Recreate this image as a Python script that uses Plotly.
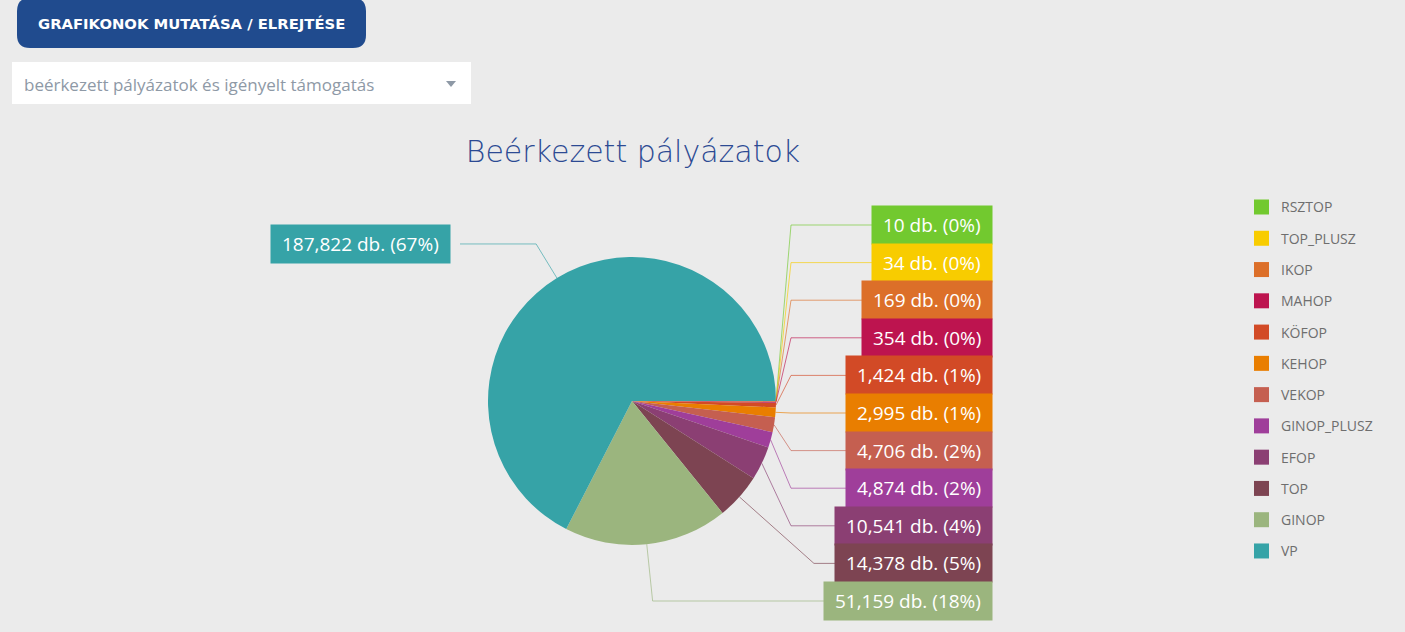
import math
import plotly.graph_objects as go

# ---------------- data ----------------
labels = ["RSZTOP", "TOP_PLUSZ", "IKOP", "MAHOP", "KÖFOP", "KEHOP", "VEKOP",
          "GINOP_PLUSZ", "EFOP", "TOP", "GINOP", "VP"]
values = [10, 34, 169, 354, 1424, 2995, 4706, 4874, 10541, 14378, 51159, 187822]
colors = ["#72c92f", "#f8cc00", "#dc6f29", "#bd144f", "#d24a26", "#e97e00",
          "#c55f50", "#9f3e9a", "#8b3f73", "#7d4452", "#9bb57e", "#36a3a7"]
title_text = "Beérkezett pályázatok"
button_text = "GRAFIKONOK MUTATÁSA / ELREJTÉSE"
dropdown_text = "beérkezett pályázatok és igényelt támogatás"

# ---------------- layout geometry (pixels) ----------------
W, H = 1405, 632
CX, CY, R = 632, 401, 144
BG = "#ebebeb"


def px(x):
    return x / W


def py(y):
    return 1 - y / H


def rgba(hex_color, a):
    h = hex_color.lstrip("#")
    r, g, b = int(h[0:2], 16), int(h[2:4], 16), int(h[4:6], 16)
    return f"rgba({r},{g},{b},{a})"


total = sum(values)
fig = go.Figure()

fig.add_trace(go.Pie(
    labels=labels, values=values,
    marker=dict(colors=colors, line=dict(width=0)),
    sort=False, direction="clockwise", rotation=90,
    textinfo="none", hoverinfo="label+value+percent",
    showlegend=False,
    domain=dict(x=[px(CX - R), px(CX + R)], y=[py(CY + R), py(CY - R)]),
))

shapes = []
annotations = []

# ---------------- outside labels with leader lines ----------------
n_right = len(values) - 1
step = 37.6
bottom_y = 601
cum = 0
for i, (lab, v, col) in enumerate(zip(labels, values, colors)):
    theta = (cum + v / 2) / total * 2 * math.pi
    cum += v
    c, s = math.cos(theta), math.sin(theta)
    ex, ey = CX + R * c, CY + R * s
    text = f"\u00a0{v:,} db. ({round(100 * v / total)}%)\u00a0"
    if c >= 0 and i < n_right:
        ly = bottom_y - (n_right - 1 - i) * step
        if math.degrees(theta) > 35:
            bx = ex + (ly - ey) * c / s
        else:
            bx = CX + R + 15
        lx_end, box_x, anchor = 960, 993, "right"
    else:
        ly = CY + (R + 40) * s
        bx = ex + (ly - ey) * c / s
        lx_end, box_x, anchor = 460, 451, "right"
    shapes.append(dict(
        type="path", xref="paper", yref="paper",
        path=f"M {px(ex)},{py(ey)} L {px(bx)},{py(ly)} L {px(lx_end)},{py(ly)}",
        line=dict(color=rgba(col, 0.65), width=1), layer="above",
    ))
    annotations.append(dict(
        xref="paper", yref="paper", x=px(box_x), y=py(ly),
        xanchor=anchor, yanchor="middle", showarrow=False,
        text=text, bgcolor=col, borderpad=6,
        font=dict(family="Open Sans", size=19, color="white"),
    ))

# ---------------- legend (manual, fixed spacing) ----------------
leg_y0, leg_step = 207, 31.27
for i, (lab, col) in enumerate(zip(labels, colors)):
    yc = leg_y0 + i * leg_step
    shapes.append(dict(
        type="rect", xref="paper", yref="paper",
        x0=px(1254), x1=px(1269), y0=py(yc - 7.5), y1=py(yc + 7.5),
        fillcolor=col, line=dict(width=0),
    ))
    annotations.append(dict(
        xref="paper", yref="paper", x=px(1279), y=py(yc),
        xanchor="left", yanchor="middle", showarrow=False, text=lab,
        font=dict(family="Open Sans", size=14, color="#6e6e6e"),
    ))

# ---------------- button ----------------
bx0, bx1, by0, by1, rr = 17, 366, -2, 48, 13
btn_path = (
    f"M {px(bx0 + rr)},{py(by0)} L {px(bx1 - rr)},{py(by0)} "
    f"Q {px(bx1)},{py(by0)} {px(bx1)},{py(by0 + rr)} "
    f"L {px(bx1)},{py(by1 - rr)} Q {px(bx1)},{py(by1)} {px(bx1 - rr)},{py(by1)} "
    f"L {px(bx0 + rr)},{py(by1)} Q {px(bx0)},{py(by1)} {px(bx0)},{py(by1 - rr)} "
    f"L {px(bx0)},{py(by0 + rr)} Q {px(bx0)},{py(by0)} {px(bx0 + rr)},{py(by0)} Z"
)
shapes.append(dict(type="path", xref="paper", yref="paper", path=btn_path,
                   fillcolor="#204b8e", line=dict(width=0)))
annotations.append(dict(
    xref="paper", yref="paper", x=px((bx0 + bx1) / 2), y=py(24),
    xanchor="center", yanchor="middle", showarrow=False, text=button_text,
    font=dict(family="DejaVu Sans", size=14.8, color="white", weight="bold"),
))

# ---------------- dropdown ----------------
shapes.append(dict(type="rect", xref="paper", yref="paper",
                   x0=px(12), x1=px(471), y0=py(104), y1=py(62),
                   fillcolor="white", line=dict(width=0)))
annotations.append(dict(
    xref="paper", yref="paper", x=px(22), y=py(84),
    xanchor="left", yanchor="middle", showarrow=False, text=dropdown_text,
    font=dict(family="Open Sans", size=17, color="#8e99a6"),
))
shapes.append(dict(type="path", xref="paper", yref="paper",
                   path=f"M {px(446)},{py(81)} L {px(456)},{py(81)} L {px(451)},{py(87)} Z",
                   fillcolor="#8e99a6", line=dict(width=0)))

fig.update_layout(
    width=W, height=H,
    margin=dict(l=0, r=0, t=0, b=0),
    paper_bgcolor=BG, plot_bgcolor=BG,
    title=dict(text=title_text, x=px(633), xanchor="center",
               yref="container", y=py(151), yanchor="middle",
               font=dict(family="DejaVu Sans", size=30, color="#2c4a93", weight=200)),
    shapes=shapes, annotations=annotations,
    showlegend=False,
)

fig.write_html("out.html", config={"displayModeBar": False},
               post_script="document.body.style.margin='0';")
